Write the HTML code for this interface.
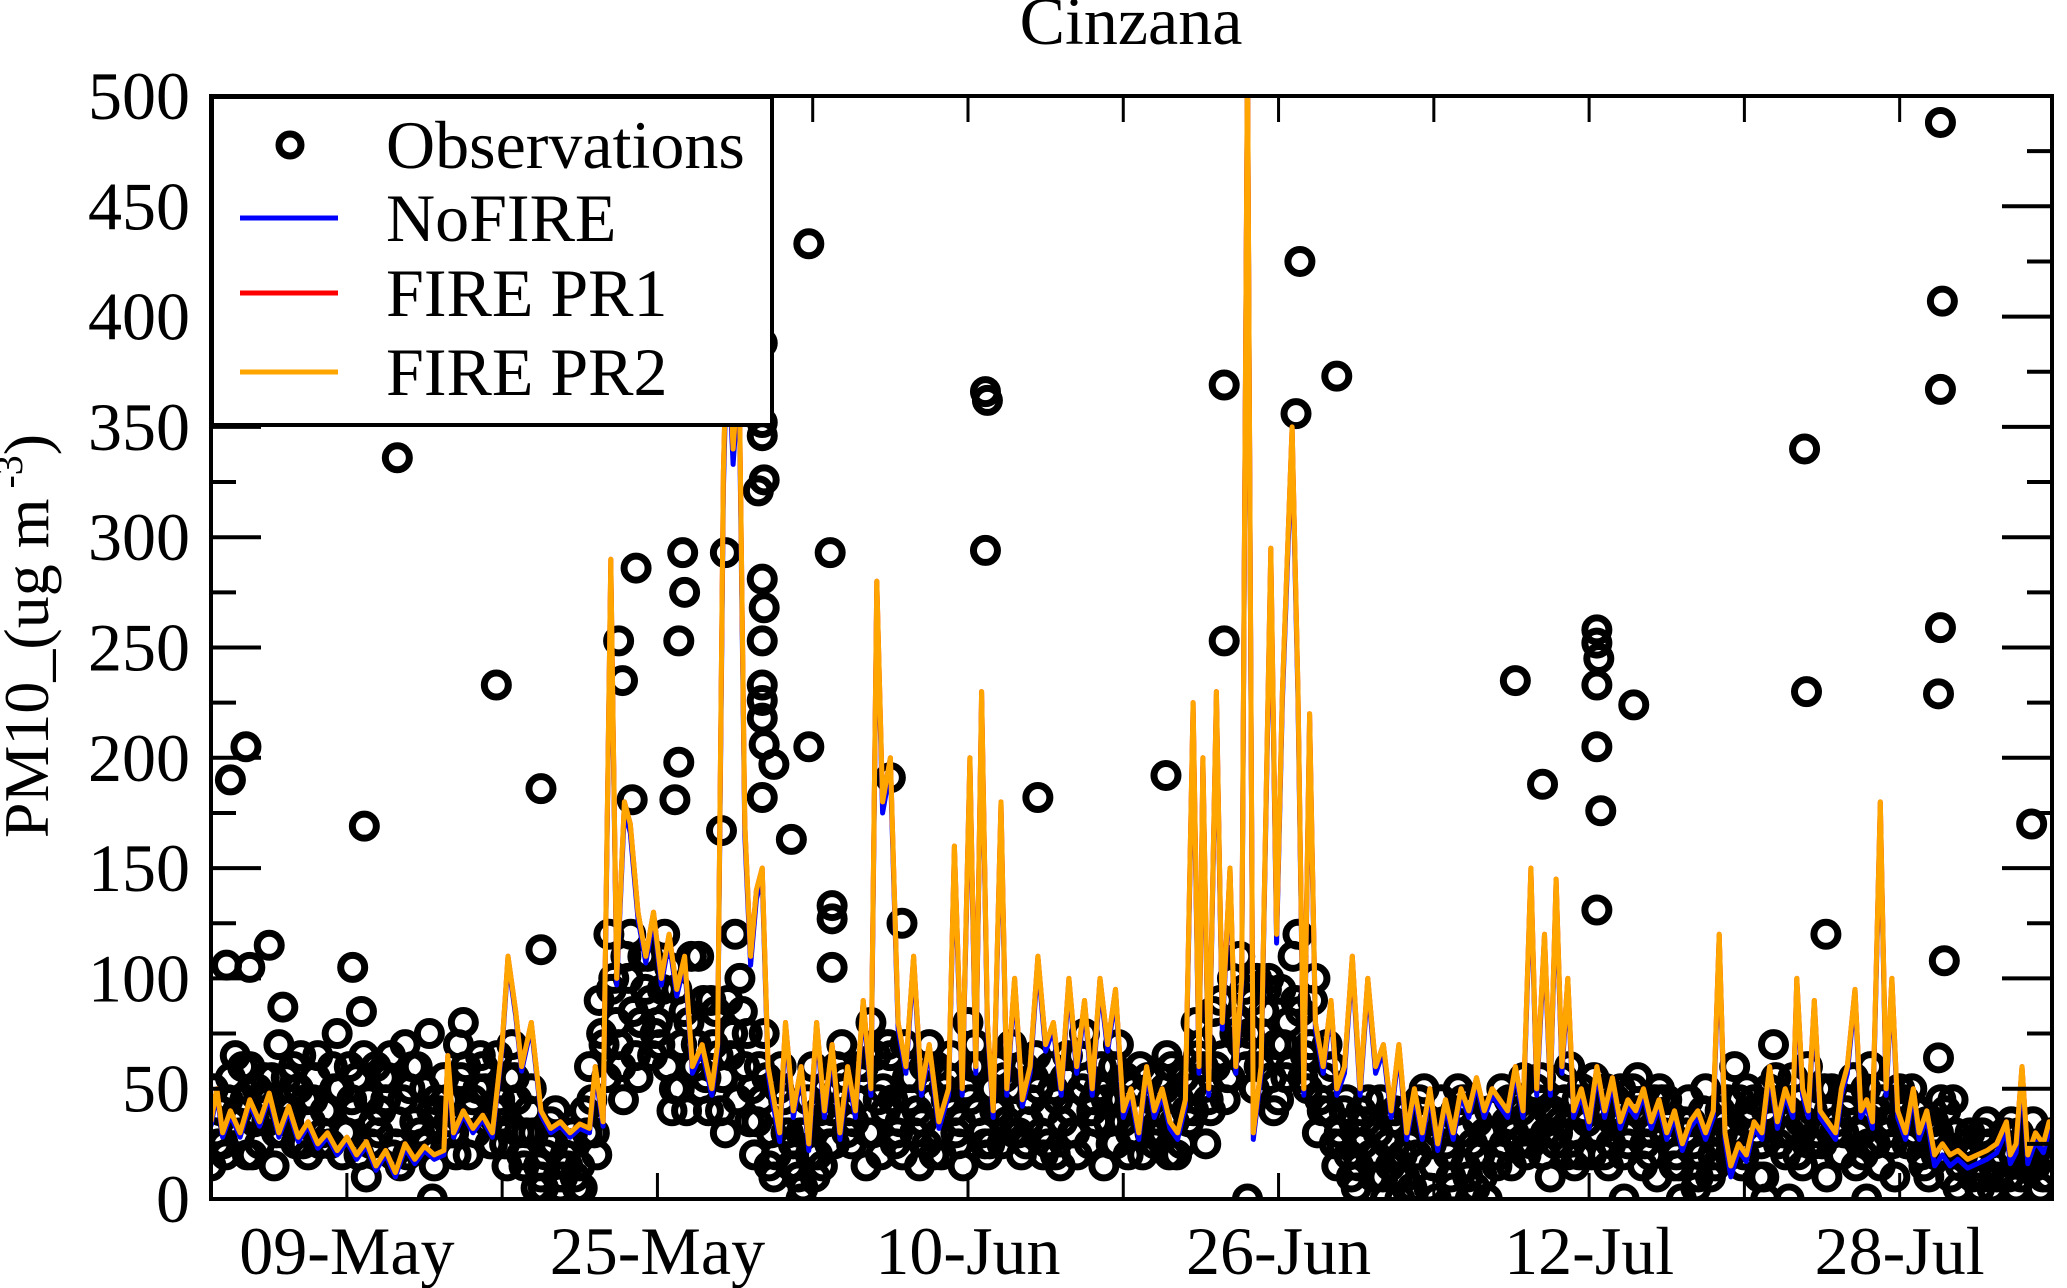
<!DOCTYPE html>
<html><head><meta charset="utf-8"><style>
html,body{margin:0;padding:0;background:#fff;}
svg{display:block;font-family:"Liberation Serif",serif;}
</style></head><body>
<svg id="chart" width="2067" height="1288" viewBox="0 0 2067 1288" xmlns="http://www.w3.org/2000/svg">
<defs><clipPath id="plotclip"><rect x="211" y="96" width="1841" height="1103"/></clipPath></defs>
<text x="1131" y="44" font-size="68" text-anchor="middle">Cinzana</text>
<g id="obsLayer" clip-path="url(#plotclip)"></g>
<g id="lineLayer" clip-path="url(#plotclip)"></g>
<g id="axes"></g>
<text transform="translate(48,636) rotate(-90)" font-size="64" text-anchor="middle">PM10_(ug m<tspan font-size="40" dy="-26"> -3</tspan><tspan dy="26">)</tspan></text>
<g id="legend">
<rect x="212" y="97" width="560" height="328" fill="#fff" stroke="#000" stroke-width="4"/>
<circle cx="290" cy="145" r="11" fill="none" stroke="#000" stroke-width="7"/>
<text x="386" y="168" font-size="68">Observations</text>
<line x1="240" y1="218" x2="338" y2="218" stroke="#0000ff" stroke-width="5"/>
<text x="386" y="241" font-size="68">NoFIRE</text>
<line x1="240" y1="293" x2="338" y2="293" stroke="#ff0000" stroke-width="5"/>
<text x="386" y="316" font-size="68">FIRE PR1</text>
<line x1="240" y1="372" x2="338" y2="372" stroke="#ffa500" stroke-width="5"/>
<text x="386" y="395" font-size="68">FIRE PR2</text>
</g>
</svg>
<script>
// days since 02-May 00:00
const yTicks=[0,50,100,150,200,250,300,350,400,450,500];
const xTickDays=[7,15,23,31,39,47,55,63,71,79,87];
const xLabelDays=[7,23,39,55,71,87];
const xLabels=["09-May","25-May","10-Jun","26-Jun","12-Jul","28-Jul"];

const bulkA=[15,40,55,30,60,25,45,70,35,50,20,65, 40,75,30,55,10,60,45,25,70,35,50,15, 55,30,80,45,60,25,40,70,20,50,10,35, 5,25,15,60,90,120,70,100,55,110,80,60, 95,40,70,55,85,30,120,60,20,75,10,45, 25,5,60,15,40,70,25,55,80,20,65,35, 45,15,70,30,55,25,80,40,20,60,35,50, 25,65,40,20,55,30,75,45,15,60,35,50, 20,45,30,60,25,50,70,40,90,55,110,75, 60,100,45,80,120,50,30,70,15,45,5,35, 20,0,40,10,30,50,15,35,5,45,25,10, 30,50,15,40,25,55,10,35,60,20,45,30, 15,40,25,55,35,10,45,20,30,5,50,15, 35,60,20,45,10,70,30,55,15,40,25,50, 20,45,30,60,15,35,50,25,40,10,30,20, 5,25,15,35,10,30,5,20,15,25];
const bulkB=[30,20,65,45,35,55,15,40,60,25,45,30, 60,20,45,85,25,40,65,15,50,30,75,40, 35,70,20,50,35,65,15,45,30,5,20,40, 20,10,40,30,70,100,45,85,110,65,95,40, 70,110,50,90,40,65,100,35,60,15,50,30, 10,45,20,35,60,30,45,15,65,40,25,70, 30,60,20,50,40,15,60,30,50,25,70,20, 45,30,60,15,40,65,25,50,35,70,20,40, 55,30,65,20,40,80,25,60,45,75,95,50, 85,40,70,110,55,90,40,60,25,10,40,20, 45,15,0,25,45,5,30,20,50,10,35,0, 15,35,45,20,50,30,25,45,15,40,55,20, 35,20,50,15,30,45,25,0,35,20,10,40, 20,45,35,10,50,25,40,20,60,30,10,35, 40,15,50,25,35,10,45,30,15,35,20,45, 20,10,30,5,20,35,10,25,5,30];
const bulkC=[50,25,35,60,20,45,55,30,40,65,35,25, 25,50,60,20,45,30,55,35,20,60,25,45, 45,20,60,30,50,40,25,55,15,30,5,25, 10,30,5,45,75,95,60,120,80,90,70,105, 50,80,110,40,65,90,45,75,35,55,20,30, 15,30,10,50,25,55,35,60,30,50,45,20, 55,35,45,20,65,35,45,60,25,40,50,30, 35,50,25,45,65,20,55,35,45,25,55,30, 40,25,50,35,55,40,60,85,65,100,70,90, 75,55,95,60,85,70,45,40,30,20,15,45, 30,25,10,40,20,35,0,25,40,15,5,30, 40,25,30,55,35,20,40,55,30,50,20,40, 25,50,30,40,20,50,35,15,45,10,30,25, 45,25,50,30,40,55,20,45,35,25,50,30, 30,55,20,40,45,25,35,50,20,30,45,10, 15,30,5,25,20,10,30,15,25,10];
const bulkD=[25,45,40,20,50,35,30,55,25,45,55,40, 50,30,40,65,35,55,20,45,60,25,40,30, 30,55,40,65,25,45,55,30,40,15,25,10, 15,5,30,20,55,80,110,65,95,75,120,50, 85,60,90,70,55,75,85,50,45,30,60,15, 30,20,40,25,50,40,60,30,45,70,30,55, 40,25,60,45,30,50,70,25,40,55,30,60, 55,20,50,35,30,50,40,60,25,45,30,60, 30,55,20,45,35,65,45,75,55,80,60,100, 95,70,55,90,65,100,55,25,40,35,25,10, 10,35,20,5,35,25,45,10,30,0,20,40, 20,45,25,35,45,40,30,20,45,35,30,50, 45,30,40,25,45,30,15,35,25,40,20,30, 30,15,40,25,35,45,30,35,25,50,40,20, 45,30,25,50,30,45,25,40,35,20,40,30, 25,20,10,15,30,20,15,35,10,20];
const outDays=[0.8,1,1.8,3,2,3.7,9.6,7.9,7.3,14.7,17,17,21,21.2,21.9,21.7,24.3,24.4,24.1,24.1,23.9,26.3,26.5,28.4,28.4,28.4,28.5,28.2,28.4,28.5,28.4,28.4,28.4,28.4,28.5,29,28.4,29.9,30.8,30.8,31.9,32,32,32,35,35.6,39.9,40,39.9,42.6,49.2,52.2,52.2,56.1,55.9,58,67.2,68.6,71.4,71.4,71.5,71.4,71.4,71.6,73.3,71.4,82.1,82.2,83.2,89.1,89.2,89.1,89.1,89,89.3,89,93.8,11.4,30.4,53.4,72.8,80.1,81.3,85.3];
const outVals=[106,190,205,115,105,87,336,169,105,233,186,113,253,235,286,181,293,275,253,198,181,167,293,388,352,346,326,321,281,268,253,233,226,218,206,197,182,163,433,205,293,133,127,105,191,125,366,362,294,182,192,369,253,425,356,373,235,188,258,252,245,233,205,176,224,131,340,230,120,488,407,367,259,229,108,64,170,0,0,0,0,0,0,0];

const modelDays=[0,0.3,0.6,1,1.5,2,2.5,3,3.5,4,4.5,5,5.5,6,6.5,7,7.5,8,8.5,9,9.5,10,10.5,11,11.5,12,12.2,12.5,13,13.5,14,14.5,15,15.3,15.7,16,16.5,17,17.5,18,18.5,19,19.5,19.8,20.2,20.6,20.9,21.3,21.6,22,22.4,22.8,23.2,23.6,24,24.4,24.8,25.3,25.8,26.1,26.4,26.6,26.9,27.2,27.5,27.8,28.1,28.4,28.7,28.9,29.3,29.6,30,30.4,30.8,31.2,31.6,32,32.4,32.8,33.2,33.6,34,34.3,34.6,35,35.4,35.8,36.2,36.6,37,37.5,38,38.3,38.7,39.1,39.4,39.7,40,40.3,40.7,41,41.4,41.8,42.2,42.6,43,43.4,43.8,44.2,44.6,45,45.4,45.8,46.2,46.6,47,47.4,47.8,48.2,48.6,49,49.4,49.8,50.2,50.6,50.9,51.1,51.4,51.8,52.1,52.5,52.8,53.1,53.4,53.7,54.1,54.6,54.9,55.2,55.7,56,56.3,56.6,56.9,57.3,57.7,58,58.4,58.8,59.2,59.6,60,60.4,60.8,61.2,61.6,62,62.4,62.8,63.2,63.6,64,64.4,64.8,65.2,65.6,66,66.4,66.8,67.2,67.6,68,68.3,68.7,69,69.3,69.6,69.9,70.2,70.6,71,71.4,71.8,72.2,72.6,73,73.4,73.8,74.2,74.6,75,75.4,75.8,76.2,76.6,77,77.4,77.7,78,78.3,78.7,79.1,79.5,79.9,80.3,80.7,81.1,81.5,81.7,82,82.3,82.6,82.9,83.3,83.7,84,84.3,84.7,85,85.3,85.6,86,86.3,86.6,86.9,87.3,87.7,88,88.4,88.8,89.2,89.6,90,90.5,91,91.5,92,92.5,92.7,93,93.3,93.6,94,94.4,94.7,95.2];
const pr2=[35,50,30,40,30,45,35,48,30,42,28,35,25,30,22,28,20,26,15,22,12,25,18,24,20,22,65,30,40,32,38,30,70,110,85,60,80,40,32,35,30,34,32,60,35,290,100,180,170,130,110,130,100,120,95,110,60,70,50,70,330,400,340,380,170,110,140,150,60,50,30,80,40,60,25,80,40,70,30,60,40,90,50,280,180,200,80,60,110,50,70,35,50,160,50,200,60,230,80,40,180,50,100,45,60,110,70,80,50,100,60,90,50,100,70,95,40,50,30,60,40,50,35,30,45,225,60,200,50,230,80,150,60,100,520,30,60,295,120,230,350,230,50,220,80,60,90,50,60,110,50,100,60,70,40,70,30,50,30,50,25,45,30,50,40,55,40,50,45,40,60,40,150,50,120,50,145,60,100,40,50,35,60,40,55,35,45,40,50,35,45,30,40,25,35,40,30,40,120,30,15,25,20,35,30,60,35,50,40,100,50,40,90,40,35,30,50,60,95,40,45,35,180,50,100,40,30,50,30,40,20,25,20,22,18,20,22,25,35,20,25,60,20,30,25,35,30];
const pr1=[35,50,30,40,30,45,35,48,30,42,28,35,25,30,22,28,20,26,15,22,12,25,18,24,20,22,65,30,40,32,38,30,70,110,85,60,80,40,32,35,30,34,32,60,35,290,100,180,170,130,110,130,100,120,95,110,60,70,50,70,330,400,340,380,170,110,140,150,60,50,30,80,40,60,25,80,40,70,30,60,40,90,50,280,180,200,80,60,110,50,70,35,50,160,50,200,60,230,80,40,180,50,100,45,60,110,70,80,50,100,60,90,50,100,70,95,40,50,30,60,40,50,35,30,45,225,60,200,50,230,80,150,60,100,520,30,60,295,120,230,350,230,50,220,80,60,90,50,60,110,50,100,60,70,40,70,30,50,30,50,25,45,30,50,40,55,40,50,45,40,60,40,150,50,120,50,145,60,100,40,50,35,60,40,55,35,45,40,50,35,45,30,40,25,35,40,30,40,120,30,15,25,20,35,30,60,35,50,40,100,50,40,90,40,35,30,50,60,95,40,45,35,180,50,100,40,30,50,30,40,20,25,20,22,18,20,22,25,35,20,25,60,20,30,25,35,30];
const nofire=[33,48,28,38,28,43,33,46,28,40,26,33,23,28,20,26,18,24,13,20,10,23,16,22,18,20,62,28,38,30,36,28,68,108,83,58,78,38,30,33,28,32,30,57,33,285,97,176,166,127,107,127,97,117,92,107,57,67,47,67,322,392,333,372,165,106,136,146,57,46,26,77,37,57,22,77,37,67,27,57,37,87,47,275,175,195,77,57,107,47,67,32,47,156,47,196,57,226,77,37,176,47,97,42,57,107,67,77,47,97,57,87,47,97,67,92,37,47,27,57,37,47,32,27,42,220,57,196,47,226,77,146,57,97,515,27,57,290,116,226,345,226,47,216,77,57,87,47,57,107,47,97,57,67,37,67,27,47,27,47,22,42,27,47,37,52,37,47,42,37,57,37,146,47,116,47,141,57,97,37,47,32,57,37,52,32,42,37,47,32,42,27,37,22,32,37,27,37,116,27,10,22,17,32,27,57,32,47,37,97,47,37,87,37,32,27,47,57,92,37,42,32,176,47,97,37,27,47,27,37,15,20,15,18,14,16,18,21,31,16,21,56,16,26,21,31,26];

const NS="http://www.w3.org/2000/svg";
const X0=211,X1=2052,Y0=1199,Y1=96;
const PXDAY=19.41;
function xScale(d){return X0+d*PXDAY;}
function yScale(v){return Y0-(v/500)*(Y0-Y1);}
function mk(tag,attrs,parent){const e=document.createElementNS(NS,tag);for(const k in attrs)e.setAttribute(k,attrs[k]);parent.appendChild(e);return e;}

const obsLayer=document.getElementById('obsLayer');
function drawObs(d,v){
  const c=mk('circle',{cx:xScale(d),cy:yScale(v),r:12,fill:'none',stroke:'#000','stroke-width':7},obsLayer);
  
  
}
bulkA.forEach((v,i)=>drawObs(i*0.5,v));
bulkB.forEach((v,i)=>drawObs(i*0.5+0.25,v));
bulkC.forEach((v,i)=>drawObs(i*0.5+0.125,v));
bulkD.forEach((v,i)=>drawObs(i*0.5+0.375,v));
outDays.forEach((d,i)=>drawObs(d,outVals[i]));

const lineLayer=document.getElementById('lineLayer');
function drawLine(vals,color,name,w){
  const pts=modelDays.map((d,i)=>xScale(d).toFixed(1)+','+yScale(vals[i]).toFixed(1)).join(' ');
  const p=mk('polyline',{points:pts,fill:'none',stroke:color,'stroke-width':w,'stroke-linejoin':'round'},lineLayer);
  
  
}
drawLine(nofire,'#0000ff','nofire-line',5);
drawLine(pr1,'#ff0000','fire-pr1-line',5);
drawLine(pr2,'#ffa500','fire-pr2-line',5);

const axes=document.getElementById('axes');
for(let v=0;v<=500;v+=25){
  const y=yScale(v);const len=(v%50===0)?50:25;
  const t1=mk('line',{x1:X0,y1:y,x2:X0+len,y2:y,stroke:'#000','stroke-width':4},axes);
  
  
  const t2=mk('line',{x1:X1,y1:y,x2:X1-len,y2:y,stroke:'#000','stroke-width':4},axes);
  
  
}
yTicks.forEach(v=>{
  const t=mk('text',{x:190,y:yScale(v)+23,'font-size':68,'text-anchor':'end'},axes);
  t.textContent=v;
  
  
});
xTickDays.forEach(d=>{
  const x=xScale(d);
  const a=mk('line',{x1:x,y1:Y0,x2:x,y2:Y0-26,stroke:'#000','stroke-width':3},axes);
  
  
  const b=mk('line',{x1:x,y1:Y1,x2:x,y2:Y1+26,stroke:'#000','stroke-width':3},axes);
  
  
});
xLabelDays.forEach((d,i)=>{
  const t=mk('text',{x:xScale(d),y:1274,'font-size':68,'text-anchor':'middle'},axes);
  t.textContent=xLabels[i];
  
  
});
const frame=mk('rect',{x:X0,y:Y1,width:X1-X0,height:Y0-Y1,fill:'none',stroke:'#000','stroke-width':4},axes);


</script>
</body></html>
